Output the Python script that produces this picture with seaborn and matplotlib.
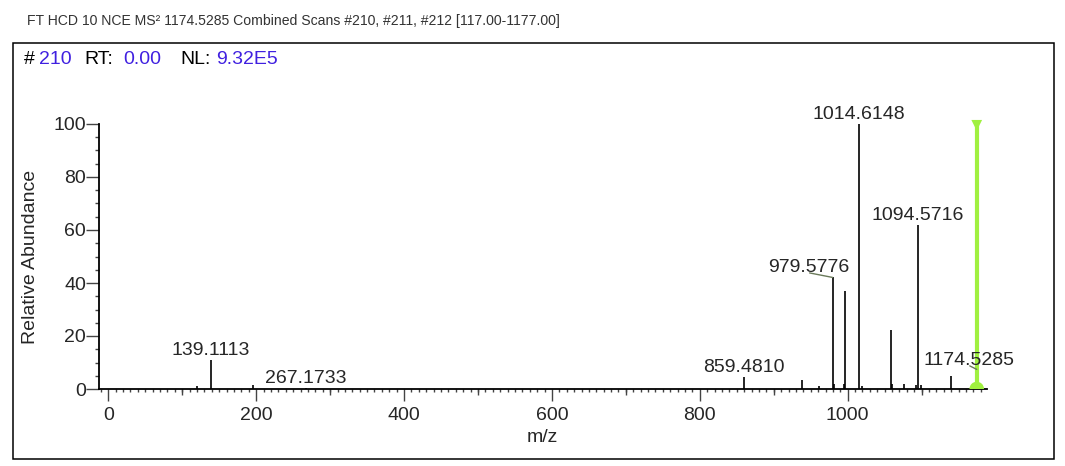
import matplotlib
matplotlib.use('Agg')
import matplotlib.pyplot as plt
import seaborn as sns
import numpy as np
from matplotlib.patches import Rectangle
from matplotlib.ticker import MultipleLocator

# 数据：质谱峰 (m/z, 相对丰度)
mz = [120.1, 139.1113, 196.0, 267.1733, 859.4810, 938.6, 960.8, 979.5776, 981.0,
      995.0, 996.8, 1014.6148, 1019.0, 1059.0, 1060.5, 1076.6, 1092.0, 1094.5716,
      1099.5, 1139.3, 1174.5285]
intensity = [1.2, 10.9, 1.4, 0.5, 4.5, 3.4, 1.1, 42.1, 2.0,
             2.0, 36.9, 100.0, 1.0, 22.3, 2.0, 1.9, 1.5, 61.9,
             1.5, 4.9, 7.4]

# 标注的峰
label_mz = [139.1113, 267.1733, 859.4810, 1014.6148, 1094.5716]
label_int = [10.9, 0.5, 4.5, 100.0, 61.9]
# 带引线的标注
leader_mz = [979.5776, 1174.5285]
leader_int = [42.1, 7.4]
leader_off = [(-24, 5), (-8, 4)]

precursor_mz = 1174.5285

title_txt = 'FT HCD 10 NCE MS² 1174.5285 Combined Scans #210, #211, #212 [117.00-1177.00]'
header_parts = [('#', 'black'), ('210', '#4020e0'), ('RT:', 'black'),
                ('0.00', '#4020e0'), ('NL:', 'black'), ('9.32E5', '#4020e0')]
header_x = [24, 39, 84, 123, 180, 216]

sns.set_style('ticks')
plt.rcParams['font.family'] = ['Liberation Sans', 'DejaVu Sans']

W, H = 1065, 466
fig = plt.figure(figsize=(W / 100, H / 100), dpi=100)
ax = fig.add_axes([99 / W, (H - 389) / H, 887.7 / W, 265 / H])

# 峰
ax.vlines(mz, 0, intensity, color='black', lw=1.2)

# 前体离子标记
green = '#a0f040'
ax.vlines([precursor_mz], 0, 99.5, color=green, lw=3, zorder=3)
sns.scatterplot(x=[precursor_mz], y=[0], color=green, s=110, marker='o',
                edgecolor='none', ax=ax, zorder=3)
ax.scatter([precursor_mz], [99.5], color=green, s=60, marker='v',
           clip_on=False, zorder=3, edgecolors='none')

ax.set_xlim(-12.6, 1188)
ax.set_ylim(0, 100)

fs = 14
for x, y in zip(label_mz, label_int):
    ax.annotate(f'{x:.4f}', xy=(x, y), xytext=(0, 5), textcoords='offset pixels',
                ha='center', va='baseline', fontsize=fs, annotation_clip=False)

for x, y, off in zip(leader_mz, leader_int, leader_off):
    ax.annotate(f'{x:.4f}', xy=(x, y), xytext=off, textcoords='offset pixels',
                ha='center', va='baseline', fontsize=fs, annotation_clip=False)
    ax.annotate('', xy=(x, y), xytext=(off[0] + 1, off[1] - 0.5), textcoords='offset pixels',
                arrowprops=dict(arrowstyle='-', color='#6a7a5a', lw=1,
                                shrinkA=0, shrinkB=0), annotation_clip=False)

# 坐标轴
for s in ['top', 'right']:
    ax.spines[s].set_visible(False)
for s in ['left', 'bottom']:
    ax.spines[s].set_linewidth(1.3)
    ax.spines[s].set_color('black')

ax.xaxis.set_major_locator(MultipleLocator(200))
ax.xaxis.set_minor_locator(MultipleLocator(10))
ax.yaxis.set_major_locator(MultipleLocator(20))
ax.yaxis.set_minor_locator(MultipleLocator(5))
ax.tick_params(axis='x', which='major', length=8.6, width=1, pad=4, labelsize=fs, color='#444')
ax.tick_params(axis='x', which='minor', length=2.2, width=1, color='#444')
ax.tick_params(axis='y', which='major', length=9.4, width=1, pad=0, labelsize=fs, color='#444')
ax.tick_params(axis='y', which='minor', length=3.1, width=1, color='#444')

# 百位中等刻度
sec = ax.secondary_xaxis('bottom')
sec.set_xticks([100, 300, 500, 700, 900, 1100])
sec.set_xticklabels([])
sec.tick_params(length=4.3, width=1, color='#444')
sec.spines['bottom'].set_visible(False)

ax.set_xlabel('m/z', fontsize=fs, labelpad=4)
ax.set_ylabel('Relative Abundance', fontsize=fs, labelpad=10)

# 外框与标题
fig.patches.append(Rectangle((13.3 / W, (H - 458.7) / H), 1041 / W, 415.4 / H,
                             transform=fig.transFigure, fill=False, lw=1.1,
                             edgecolor='black'))
fig.text(27 / W, 1 - 21 / H, title_txt, fontsize=10.1, color='#333333', va='center')
for (t, c), x in zip(header_parts, header_x):
    fig.text(x / W, 1 - 59 / H, t, fontsize=14, color=c, va='center')

fig.savefig('out.png', dpi=100)
